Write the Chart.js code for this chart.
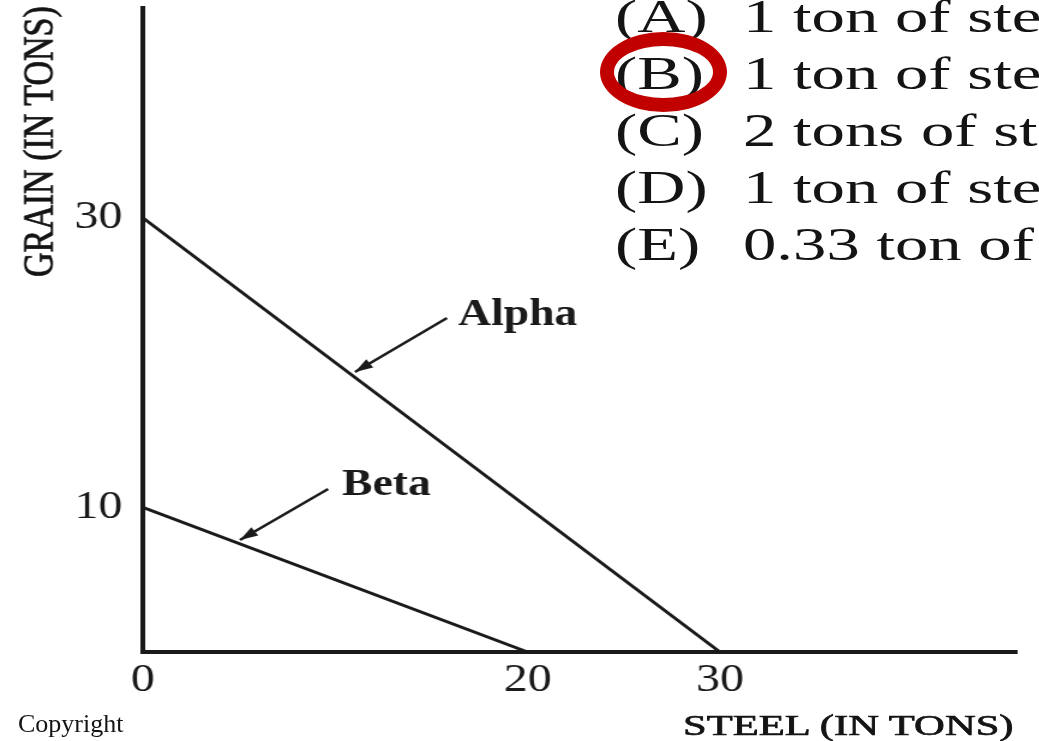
<!DOCTYPE html>
<html>
<head>
<meta charset="utf-8">
<script src="https://cdn.jsdelivr.net/npm/chart.js@4.4.1/dist/chart.umd.min.js"></script>
<style>
  html, body { margin: 0; padding: 0; background: #fff; overflow: hidden; }
  body { width: 1039px; height: 741px; position: relative; font-family: "Liberation Serif", "Times New Roman", serif; color: #141414; }
  #wrap { position: absolute; left: 0; top: 0; width: 866px; height: 741px; transform: scaleX(1.2); transform-origin: 0 0; }
  .txt { position: absolute; white-space: nowrap; transform-origin: 0 0; }
  .opt { font-size: 46px; line-height: 46px; transform: scaleX(1.45); }
  .heavy { -webkit-text-stroke: 0.7px #141414; }
  #ring { position: absolute; left: 600px; top: 32px; width: 99px; height: 52px; border: 14px solid #c10000; border-radius: 50%; }
</style>
</head>
<body>
<div id="wrap"><canvas id="ppf" width="866" height="741"></canvas></div>
<div id="options"></div>
<div id="ring"></div>
<div class="txt heavy" id="grain-title" style="font-size:34px; line-height:34px; left:0; top:0; transform: translate(17px, 277px) rotate(-90deg) scaleY(1.25);">GRAIN (IN TONS)</div>
<div class="txt heavy" id="steel-title" style="font-size:30px; line-height:30px; left:683px; top:710px; transform: scaleX(1.42);">STEEL (IN TONS)</div>
<div class="txt" style="font-size:26px; line-height:26px; left:18px; top:711px;">Copyright</div>
<script>
// Datos de la frontera de posibilidades
const steelTicks = [0, 20, 30]
const grainTicks = [10, 30]
const alphaSteel = [0, 30]
const alphaGrain = [30, 0]
const betaSteel = [0, 20]
const betaGrain = [10, 0]
const optionLetters = ["(A)", "(B)", "(C)", "(D)", "(E)"]
const optionTexts = ["1 ton of ste", "1 ton of ste", "2 tons of st", "1 ton of ste", "0.33 ton of"]

// Opciones de respuesta (recortadas como en la imagen)
const optBox = document.getElementById("options")
optBox.innerHTML = optionLetters
  .map(
    (letter, i) => `
  <div class="txt opt" style="left:615px; top:${-6 + i * 57}px;">${letter}</div>
  <div class="txt opt" style="left:743px; top:${-6 + i * 57}px;">${optionTexts[i]}</div>`,
  )
  .join("")

// Etiquetas con flecha, en coordenadas de datos
const notes = [
  { text: "Alpha", at: [16.39, 22.6], from: [15.81, 23.08], to: [11.03, 19.35] },
  { text: "Beta", at: [10.36, 10.85], from: [9.63, 11.26], to: [5.05, 7.74] },
]

const arrowLabels = {
  id: "arrowLabels",
  afterDatasetsDraw(chart) {
    const { ctx, scales } = chart
    const sx = scales.x
    const sy = scales.y
    ctx.save()
    ctx.strokeStyle = "#1a1a1a"
    ctx.fillStyle = "#1a1a1a"
    ctx.lineWidth = 2.5
    notes.forEach((n) => {
      const x1 = sx.getPixelForValue(n.from[0])
      const y1 = sy.getPixelForValue(n.from[1])
      const x2 = sx.getPixelForValue(n.to[0])
      const y2 = sy.getPixelForValue(n.to[1])
      ctx.beginPath()
      ctx.moveTo(x1, y1)
      ctx.lineTo(x2, y2)
      ctx.stroke()
      const a = Math.atan2(y2 - y1, x2 - x1)
      const len = 15
      const w = 5
      ctx.beginPath()
      ctx.moveTo(x2, y2)
      ctx.lineTo(x2 - len * Math.cos(a) + w * Math.sin(a), y2 - len * Math.sin(a) - w * Math.cos(a))
      ctx.lineTo(x2 - len * Math.cos(a) - w * Math.sin(a), y2 - len * Math.sin(a) + w * Math.cos(a))
      ctx.closePath()
      ctx.fill()
      ctx.font = "bold 38px 'Liberation Serif', serif"
      ctx.textBaseline = "alphabetic"
      ctx.textAlign = "left"
      ctx.fillText(n.text, sx.getPixelForValue(n.at[0]), sy.getPixelForValue(n.at[1]))
    })
    ctx.restore()
  },
}

Chart.defaults.font.family = "'Liberation Serif', 'Times New Roman', serif"

function createChart() {
  const ctx = document.getElementById("ppf").getContext("2d")
  new Chart(ctx, {
    type: "scatter",
    data: {
      datasets: [
        {
          label: "Alpha",
          data: alphaSteel.map((x, i) => ({ x, y: alphaGrain[i] })),
          showLine: true,
          borderColor: "#1a1a1a",
          borderWidth: 3,
          pointRadius: 0,
        },
        {
          label: "Beta",
          data: betaSteel.map((x, i) => ({ x, y: betaGrain[i] })),
          showLine: true,
          borderColor: "#1a1a1a",
          borderWidth: 3,
          pointRadius: 0,
        },
      ],
    },
    options: {
      responsive: false,
      animation: false,
      layout: { padding: { top: 8, right: 18.5, left: 0, bottom: 0 } },
      plugins: {
        legend: { display: false },
        tooltip: { enabled: false },
      },
      scales: {
        x: {
          type: "linear",
          min: 0,
          max: 45.44,
          afterBuildTicks: (axis) => {
            axis.ticks = steelTicks.map((v) => ({ value: v }))
          },
          afterFit: (scale) => {
            scale.height = 89
            scale.paddingLeft = 0
            scale.paddingRight = 0
          },
          grid: { display: false, drawTicks: false },
          border: { display: true, color: "#1a1a1a", width: 4 },
          ticks: { font: { size: 40 }, color: "#1a1a1a", padding: 4, maxRotation: 0, autoSkip: false },
        },
        y: {
          type: "linear",
          min: 0,
          max: 44.5,
          afterBuildTicks: (axis) => {
            axis.ticks = grainTicks.map((v) => ({ value: v }))
          },
          afterFit: (scale) => {
            scale.width = 119
            scale.paddingTop = 0
            scale.paddingBottom = 0
          },
          grid: { display: false, drawTicks: false },
          border: { display: true, color: "#1a1a1a", width: 4 },
          ticks: { font: { size: 40 }, color: "#1a1a1a", padding: 17, autoSkip: false },
        },
      },
    },
    plugins: [arrowLabels],
  })
}

document.addEventListener("DOMContentLoaded", () => {
  createChart()
})
</script>
</body>
</html>
